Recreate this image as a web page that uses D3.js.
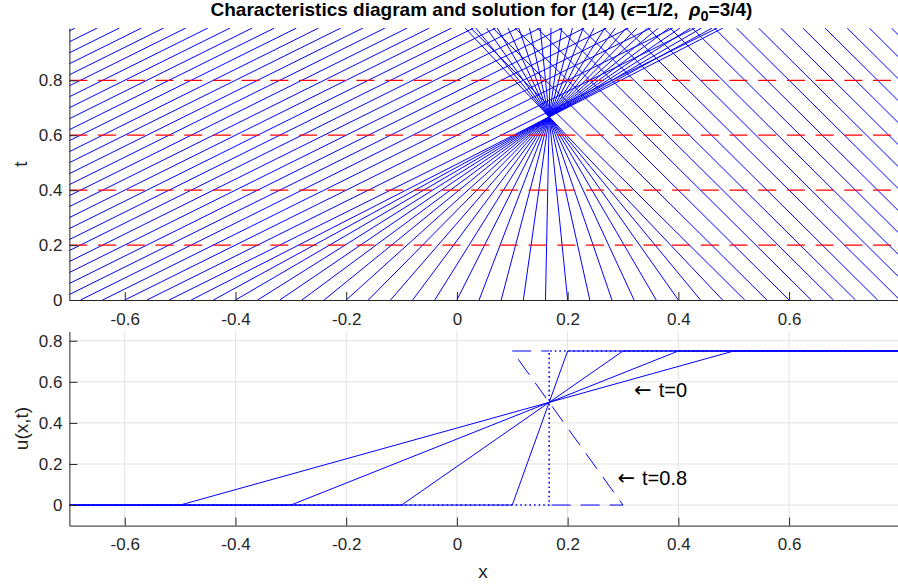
<!DOCTYPE html>
<html>
<head>
<meta charset="utf-8">
<script src="https://cdn.jsdelivr.net/npm/d3@7"></script>
<style>
  body { margin: 0; background: #fff; }
  text { font-family: "Liberation Sans", Arial, Helvetica, sans-serif; }
</style>
</head>
<body>
<div id="chart"></div>
<script>
// ticks shared by both panels
var xTicks = [-0.6, -0.4, -0.2, 0, 0.2, 0.4, 0.6];
var xTickLabels = ["-0.6", "-0.4", "-0.2", "0", "0.2", "0.4", "0.6"];
var yTicks = [0, 0.2, 0.4, 0.6, 0.8];
var yTickLabels = ["0", "0.2", "0.4", "0.6", "0.8"];

// top panel: starting points of the characteristics (t = 0)
var charX0 = [-1.68, -1.64, -1.6, -1.56, -1.52, -1.48, -1.44, -1.4, -1.36, -1.32,
  -1.28, -1.24, -1.2, -1.16, -1.12, -1.08, -1.04, -1, -0.96, -0.92, -0.88, -0.84,
  -0.8, -0.76, -0.72, -0.68, -0.64, -0.6, -0.56, -0.52, -0.48, -0.44, -0.4, -0.36,
  -0.32, -0.28, -0.24, -0.2, -0.16, -0.12, -0.08, -0.04, 0, 0.04, 0.08, 0.12, 0.16,
  0.2, 0.24, 0.28, 0.32, 0.36, 0.4, 0.44, 0.48, 0.52, 0.56, 0.6, 0.64, 0.68, 0.72,
  0.76, 0.8, 0.84, 0.88, 0.92, 0.96, 1, 1.04, 1.08, 1.12, 1.16, 1.2, 1.24, 1.28];
// initial profile u(x,0): ramp knots
var profileX = [-0.5, 0.5];
var profileU = [0, 0.75];
var tMax = 0.99;
// time slices marked in the top panel
var sliceT = [0.2, 0.4, 0.6, 0.8];

// bottom panel: solution profiles (ramp ends at each time)
var profileTimes = [0, 0.2, 0.4, 0.6];
var rampLeft = [-0.5, -0.3, -0.1, 0.1];
var rampRight = [0.5, 0.4, 0.3, 0.2];
// t = 0.8: multivalued part (dashed) and shock solution (dotted)
var multiX = [1/6, 0.1, 0.3, 1/6];
var multiU = [0.75, 0.75, 0, 0];
var shockX = [-0.7, 1/6, 1/6, 0.8];
var shockU = [0, 0, 0.75, 0.75];
// annotations
var noteText = ["t=0", "t=0.8"];
var noteX = [0.32, 0.29];
var noteU = [0.56, 0.13];

var width = 898, height = 588;
var axisColor = "#262626";

var svg = d3.select("#chart").append("svg")
    .attr("width", width)
    .attr("height", height);

var x = d3.scaleLinear().domain([-0.7, 0.8]).range([69.4, 899.8]);
var t = d3.scaleLinear().domain([0, tMax]).range([300, 28.1]);
var u = d3.scaleLinear().domain([-0.1, 0.845]).range([525.6, 331.5]);

// wave speed c(u) = 1 - 2u, initial data by linear interpolation of the ramp
var u0 = d3.scaleLinear().domain(profileX).range(profileU).clamp(true);
function speed(v) { return 1 - 2 * v; }

var defs = svg.append("defs");
defs.append("clipPath").attr("id", "clipTop").append("rect")
    .attr("x", x.range()[0]).attr("y", t.range()[1])
    .attr("width", x.range()[1] - x.range()[0]).attr("height", t.range()[0] - t.range()[1]);
defs.append("clipPath").attr("id", "clipBot").append("rect")
    .attr("x", x.range()[0]).attr("y", u.range()[1])
    .attr("width", x.range()[1] - x.range()[0]).attr("height", u.range()[0] - u.range()[1]);

// ---------- top panel ----------
var topG = svg.append("g").attr("clip-path", "url(#clipTop)");
var lineXT = d3.line().x(function(d) { return x(d[0]); }).y(function(d) { return t(d[1]); });

topG.selectAll("path.char")
  .data(charX0)
  .enter().append("path")
    .attr("class", "char")
    .attr("d", function(x0) {
      return lineXT([[x0, 0], [x0 + speed(u0(x0)) * tMax, tMax]]);
    })
    .attr("fill", "none")
    .attr("stroke", "#0000ff")
    .attr("stroke-width", 1);

topG.selectAll("line.slice")
  .data(sliceT)
  .enter().append("line")
    .attr("class", "slice")
    .attr("x1", x(-0.7)).attr("x2", x(0.8))
    .attr("y1", function(d) { return t(d); })
    .attr("y2", function(d) { return t(d); })
    .attr("stroke", "#ff0000")
    .attr("stroke-width", 1.2)
    .attr("stroke-dasharray", "18,10.7");

var xAxisTop = svg.append("g")
    .attr("transform", "translate(0," + t(0) + ")")
    .call(d3.axisBottom(x).tickValues(xTicks)
      .tickFormat(function(d, i) { return xTickLabels[i]; })
      .tickSizeInner(-8).tickSizeOuter(0).tickPadding(13));

var yAxisTop = svg.append("g")
    .attr("transform", "translate(" + x(-0.7) + ",0)")
    .call(d3.axisLeft(t).tickValues(yTicks)
      .tickFormat(function(d, i) { return yTickLabels[i]; })
      .tickSizeInner(-8).tickSizeOuter(0).tickPadding(7));

// ---------- bottom panel ----------
var gridB = svg.append("g");
gridB.selectAll("line.gx").data(xTicks).enter().append("line")
    .attr("x1", function(d) { return x(d); }).attr("x2", function(d) { return x(d); })
    .attr("y1", u.range()[0]).attr("y2", u.range()[1])
    .attr("stroke", "#e2e2e2").attr("stroke-width", 1);
gridB.selectAll("line.gy").data(yTicks).enter().append("line")
    .attr("x1", x.range()[0]).attr("x2", x.range()[1])
    .attr("y1", function(d) { return u(d); }).attr("y2", function(d) { return u(d); })
    .attr("stroke", "#e2e2e2").attr("stroke-width", 1);

var botG = svg.append("g").attr("clip-path", "url(#clipBot)");
var lineXU = d3.line().x(function(d) { return x(d[0]); }).y(function(d) { return u(d[1]); });

botG.selectAll("path.prof")
  .data(profileTimes)
  .enter().append("path")
    .attr("class", "prof")
    .attr("d", function(d, i) {
      return lineXU([[-0.7, 0], [rampLeft[i], 0], [rampRight[i], 0.75], [0.8, 0.75]]);
    })
    .attr("fill", "none")
    .attr("stroke", "#0000ff")
    .attr("stroke-width", 1);

botG.append("path")
    .attr("d", lineXU(multiX.map(function(d, i) { return [d, multiU[i]]; })))
    .attr("fill", "none")
    .attr("stroke", "#0000ff")
    .attr("stroke-width", 1)
    .attr("stroke-dasharray", "19,10")
    .attr("stroke-dashoffset", -18);

botG.append("path")
    .attr("d", lineXU(shockX.map(function(d, i) { return [d, shockU[i]]; })))
    .attr("fill", "none")
    .attr("stroke", "#0000ff")
    .attr("stroke-width", 1.6)
    .attr("stroke-dasharray", "1.6,3");

var xAxisBot = svg.append("g")
    .attr("transform", "translate(0," + u(-0.1) + ")")
    .call(d3.axisBottom(x).tickValues(xTicks)
      .tickFormat(function(d, i) { return xTickLabels[i]; })
      .tickSizeInner(-8).tickSizeOuter(0).tickPadding(12));

var yAxisBot = svg.append("g")
    .attr("transform", "translate(" + x(-0.7) + ",0)")
    .call(d3.axisLeft(u).tickValues(yTicks)
      .tickFormat(function(d, i) { return yTickLabels[i]; })
      .tickSizeInner(-8).tickSizeOuter(0).tickPadding(7));

[xAxisTop, yAxisTop, xAxisBot, yAxisBot].forEach(function(g) {
  g.select(".domain").attr("stroke", axisColor).attr("stroke-width", 1);
  g.selectAll(".tick line").attr("stroke", axisColor).attr("stroke-width", 1);
  g.selectAll(".tick text")
    .attr("fill", axisColor)
    .style("font-size", "17px")
    .style("font-family", "'Liberation Sans', Arial, sans-serif");
});

// annotations: left arrow then label
var notes = svg.selectAll("text.note")
  .data(noteText)
  .enter().append("text")
    .attr("class", "note")
    .attr("x", function(d, i) { return x(noteX[i]); })
    .attr("y", function(d, i) { return u(noteU[i]); })
    .attr("dy", "0.35em")
    .style("font-size", "20px")
    .style("white-space", "pre")
    .attr("fill", "#000");
notes.append("tspan")
    .style("font-family", "'DejaVu Sans', sans-serif")
    .style("font-size", "21px")
    .text("\u2190");
notes.append("tspan")
    .attr("dx", 7)
    .text(function(d) { return d; });

// axis labels
svg.append("text")
    .attr("transform", "translate(27," + ((t.range()[0] + t.range()[1]) / 2) + ") rotate(-90)")
    .attr("text-anchor", "middle")
    .attr("fill", axisColor)
    .style("font-size", "19px")
    .text("t");

svg.append("text")
    .attr("transform", "translate(28," + ((u.range()[0] + u.range()[1]) / 2) + ") rotate(-90)")
    .attr("text-anchor", "middle")
    .attr("fill", axisColor)
    .style("font-size", "19px")
    .text("u(x,t)");

svg.append("text")
    .attr("x", (x.range()[0] + x.range()[1]) / 2 - 1.5)
    .attr("y", 578)
    .attr("text-anchor", "middle")
    .attr("fill", axisColor)
    .style("font-size", "19px")
    .text("x");

// title
var title = svg.append("text")
    .attr("x", 481.5)
    .attr("y", 16)
    .attr("text-anchor", "middle")
    .attr("fill", "#000")
    .style("font-size", "19px")
    .style("font-weight", "bold")
    .style("white-space", "pre");
title.append("tspan").text("Characteristics diagram and solution for (14) (");
title.append("tspan").style("font-style", "italic").text("\u03f5");
title.append("tspan").text("=1/2,  ");
title.append("tspan").style("font-style", "italic").text("\u03c1");
title.append("tspan").attr("dy", 5).style("font-size", "14.5px").text("0");
title.append("tspan").attr("dy", -5).text("=3/4)");
</script>
</body>
</html>
